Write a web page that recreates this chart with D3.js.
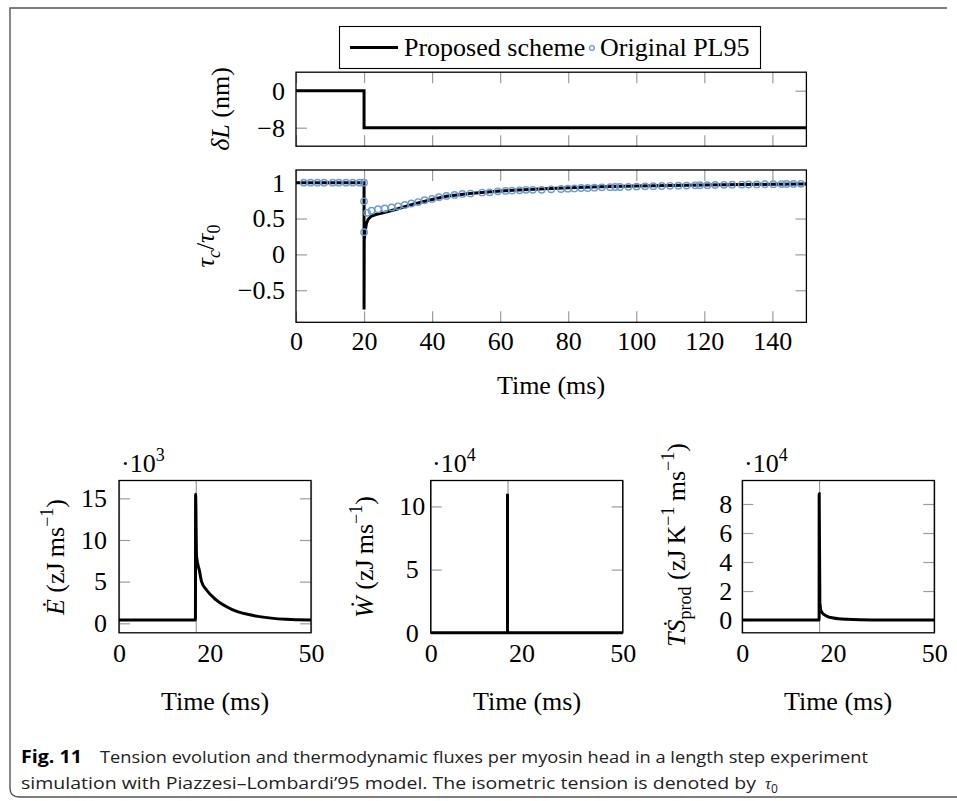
<!DOCTYPE html>
<html>
<head>
<meta charset="utf-8">
<script src="https://cdn.jsdelivr.net/npm/d3@7"></script>
<style>
  body { margin: 0; background: #fff; }
  svg { display: block; }
</style>
</head>
<body>
<div id="chart"></div>
<script>
// ---- data ----
// length step (nm)
const stepTime = [0, 20, 20, 150];
const stepValue = [0, 0, -8, -8];

// tension tau_c / tau_0, proposed scheme (line)
const tensionTime = [0, 20, 20, 20.05, 20.3, 20.7, 21.2, 22.2, 23.7, 25.6, 29.5, 34.4, 40, 44.2, 51, 60, 70, 80, 89.4, 100, 120, 140, 150];
const tensionValue = [1, 1, -0.77, 0.2, 0.32, 0.43, 0.49, 0.535, 0.56, 0.58, 0.63, 0.70, 0.765, 0.81, 0.85, 0.885, 0.91, 0.93, 0.944, 0.955, 0.968, 0.978, 0.982];

// tension, original PL95 (markers)
const origTime = [2.3, 4.3, 6.3, 8.3, 10.8, 12.6, 14.7, 16.7, 18.7, 20, 20, 20, 20.9, 22.2, 24.1, 26.1, 28.1, 30, 32, 33.9, 35.9, 37.8, 40, 42, 44.2, 46.6, 48.9, 51.3, 54.7, 56.9, 59.3, 61.6, 63.5, 65.7, 67.6, 69.6, 72.2, 75, 77.9, 79.9, 81.8, 83.8, 85.7, 87.7, 89.9, 92.3, 93.8, 95.2, 97.7, 100.1, 102.6, 105, 107.5, 109.9, 112.4, 114.8, 117.3, 118.7, 120.9, 123.2, 125.8, 128.2, 131, 133, 135.4, 137.8, 140.3, 142.7, 144.2, 146.2, 148.4];
const origValue = [1, 1, 1, 1, 1, 1, 1, 1, 1, 1, 0.74, 0.31, 0.58, 0.61, 0.63, 0.64, 0.655, 0.67, 0.69, 0.71, 0.73, 0.755, 0.774, 0.797, 0.816, 0.83, 0.843, 0.848, 0.862, 0.866, 0.88, 0.885, 0.89, 0.894, 0.9, 0.9, 0.9, 0.908, 0.912, 0.917, 0.92, 0.926, 0.926, 0.93, 0.935, 0.937, 0.94, 0.94, 0.943, 0.946, 0.95, 0.952, 0.954, 0.956, 0.958, 0.96, 0.963, 0.964, 0.966, 0.968, 0.97, 0.972, 0.974, 0.975, 0.976, 0.978, 0.98, 0.981, 0.982, 0.983, 0.984];

// energy flux (x 10^3 zJ/ms)
const energyTime = [0, 19.9, 19.95, 20.2, 21.0, 21.5, 22.8, 25.3, 29.7, 36.6, 43.5, 50];
const energyValue = [0.4, 0.4, 15.5, 8.0, 6.2, 5.0, 4.0, 2.8, 1.6, 0.8, 0.48, 0.4];

// work flux (x 10^4 zJ/ms)
const workTime = [0, 20, 20, 20, 50];
const workValue = [0, 0, 11, 0, 0];

// entropy production (x 10^4 zJ/K/ms)
const entropyTime = [0, 20, 20.02, 20.2, 20.6, 21.9, 23.7, 27.2, 34, 50];
const entropyValue = [0, 0, 8.7, 1.2, 0.57, 0.28, 0.14, 0.05, 0, 0];

// ticks
const midXTicks = [0, 20, 40, 60, 80, 100, 120, 140];
const midXLabels = ["0", "20", "40", "60", "80", "100", "120", "140"];
const stepYTicks = [0, -8];
const stepYLabels = ["0", "\u22128"];
const tensionYTicks = [1, 0.5, 0, -0.5];
const tensionYLabels = ["1", "0.5", "0", "\u22120.5"];
const smallXTicks = [0, 20, 50];
const smallXLabels = ["0", "20", "50"];
const energyYTicks = [0, 5, 10, 15];
const workYTicks = [0, 5, 10];
const entropyYTicks = [0, 2, 4, 6, 8];

const serif = '"Liberation Serif","DejaVu Serif",serif';
const blue = "#6b9bd6";

const svg = d3.select("#chart").append("svg")
    .attr("width", 957)
    .attr("height", 801);

function styleAxis(sel) {
    sel.select(".domain").remove();
    sel.selectAll(".tick line").attr("stroke", "#9c9c9c").attr("stroke-width", 1.2);
    sel.selectAll(".tick text")
        .attr("fill", "#000")
        .style("font-family", serif)
        .style("font-size", "26px");
}

function makePanel(p) {
    const x = d3.scaleLinear().domain(p.xDomain).range([p.left, p.right]);
    const y = d3.scaleLinear().domain(p.yDomain).range([p.bottom, p.top]);
    const g = svg.append("g");
    const t = 11;
    const h = p.bottom - p.top;

    const xb = g.append("g")
        .attr("transform", `translate(0,${p.bottom})`)
        .call(d3.axisBottom(x).tickValues(p.xTicks)
            .tickSize(p.fullX ? -h : -t)
            .tickPadding(p.xPad || 10)
            .tickFormat((d, i) => p.xLabels ? p.xLabels[i] : ""));
    styleAxis(xb);
    if (p.startAt20) {
        xb.selectAll(".tick text").filter(d => d === 20)
            .attr("text-anchor", "start").attr("x", 1);
    }
    if (!p.fullX) {
        const xt = g.append("g")
            .attr("transform", `translate(0,${p.top})`)
            .call(d3.axisTop(x).tickValues(p.xTicks).tickSize(-t).tickFormat(""));
        styleAxis(xt);
    }

    const yl = g.append("g")
        .attr("transform", `translate(${p.left},0)`)
        .call(d3.axisLeft(y).tickValues(p.yTicks).tickSize(-t)
            .tickPadding(p.yPad || 11)
            .tickFormat((d, i) => p.yLabels[i]));
    styleAxis(yl);
    if (p.yAnchor) yl.selectAll(".tick text").attr("text-anchor", p.yAnchor);

    const yr = g.append("g")
        .attr("transform", `translate(${p.right},0)`)
        .call(d3.axisRight(y).tickValues(p.yTicks).tickSize(-t).tickFormat(""));
    styleAxis(yr);

    g.append("rect")
        .attr("x", p.left).attr("y", p.top)
        .attr("width", p.right - p.left).attr("height", h)
        .attr("fill", "none").attr("stroke", "#000").attr("stroke-width", 1.3);

    return { x, y, g };
}

function drawLine(panel, xs, ys, curve) {
    const line = d3.line()
        .x(d => panel.x(d[0]))
        .y(d => panel.y(d[1]))
        .curve(curve || d3.curveLinear);
    panel.g.append("path")
        .datum(d3.zip(xs, ys))
        .attr("d", line)
        .attr("fill", "none")
        .attr("stroke", "#000")
        .attr("stroke-width", 3);
}

// rotated axis label made from parts {t, it, shift, size}
function rotLabel(x, y, parts) {
    const text = svg.append("text")
        .attr("transform", `translate(${x},${y}) rotate(-90)`)
        .attr("text-anchor", "middle")
        .style("font-family", serif)
        .style("font-size", "26px")
        .attr("fill", "#000");
    let cur = 0;
    parts.forEach(pt => {
        const s = pt.shift || 0;
        text.append("tspan")
            .attr("dy", s - cur)
            .style("font-style", pt.it ? "italic" : "normal")
            .style("font-size", (pt.size || 26) + "px")
            .text(pt.t);
        cur = s;
    });
}

function plainText(x, y, str, anchor) {
    svg.append("text")
        .attr("x", x).attr("y", y)
        .attr("text-anchor", anchor || "middle")
        .style("font-family", serif)
        .style("font-size", "26px")
        .attr("fill", "#000")
        .text(str);
}

function scaleNote(x, y, exp) {
    const t = svg.append("text")
        .attr("x", x).attr("y", y)
        .style("font-family", serif)
        .style("font-size", "26px")
        .attr("fill", "#000");
    t.append("tspan").text("\u00b710");
    t.append("tspan").attr("dy", -11).style("font-size", "18px").text(exp);
}

// ---- frame of the figure ----
svg.append("path")
    .attr("d", "M947,8 H10 V788 Q10,797 19,797 H957")
    .attr("fill", "none")
    .attr("stroke", "#555")
    .attr("stroke-width", 1.4);

// ---- legend ----
svg.append("rect")
    .attr("x", 339.5).attr("y", 26.5).attr("width", 421).attr("height", 42)
    .attr("fill", "#fff").attr("stroke", "#000").attr("stroke-width", 1.1);
svg.append("line")
    .attr("x1", 350).attr("x2", 398).attr("y1", 47.5).attr("y2", 47.5)
    .attr("stroke", "#000").attr("stroke-width", 3);
plainText(404, 56, "Proposed scheme", "start");
svg.append("circle")
    .attr("cx", 592).attr("cy", 48).attr("r", 2.4)
    .attr("fill", "none").attr("stroke", blue).attr("stroke-width", 1.3);
plainText(600, 56, "Original PL95", "start");

// ---- top panel: length step ----
const pStep = makePanel({
    left: 296, right: 806.4, top: 72.2, bottom: 146.2,
    xDomain: [0, 150], yDomain: [-12, 4],
    xTicks: midXTicks, yTicks: stepYTicks, yLabels: stepYLabels
});
drawLine(pStep, stepTime, stepValue);
rotLabel(229, 109, [{ t: "\u03b4L", it: true }, { t: " (nm)" }]);

// ---- middle panel: tension ----
const pTension = makePanel({
    left: 296, right: 806.4, top: 170, bottom: 322.3,
    xDomain: [0, 150], yDomain: [-0.947, 1.177],
    xTicks: midXTicks, xLabels: midXLabels, xPad: 9,
    yTicks: tensionYTicks, yLabels: tensionYLabels
});
drawLine(pTension, tensionTime, tensionValue);
pTension.g.append("g").selectAll("circle")
    .data(d3.zip(origTime, origValue))
    .join("circle")
    .attr("cx", d => pTension.x(d[0]))
    .attr("cy", d => pTension.y(d[1]))
    .attr("r", 3.2)
    .attr("fill", "none")
    .attr("stroke", blue)
    .attr("stroke-width", 1.4);
rotLabel(214, 246, [
    { t: "\u03c4", it: true }, { t: "c", it: true, shift: 6, size: 18 },
    { t: "/" }, { t: "\u03c4", it: true }, { t: "0", shift: 6, size: 18 }
]);
plainText(551, 394, "Time (ms)");

// ---- bottom panels ----
const pEnergy = makePanel({
    left: 119, right: 311, top: 480.5, bottom: 632.8,
    xDomain: [0, 50], yDomain: [-1.14, 17.14], fullX: true, startAt20: true,
    xTicks: smallXTicks, xLabels: smallXLabels, xPad: 10.5,
    yTicks: energyYTicks, yLabels: energyYTicks.map(String), yPad: 12
});
drawLine(pEnergy, energyTime, energyValue, d3.curveMonotoneX);
scaleNote(121, 472, "3");
rotLabel(64, 557, [
    { t: "E\u0307", it: true }, { t: " (zJ\u2009ms" },
    { t: "\u22121", shift: -11, size: 18 }, { t: ")" }
]);
plainText(215, 710, "Time (ms)");

const pWork = makePanel({
    left: 430.7, right: 622.7, top: 480.5, bottom: 632.8,
    xDomain: [0, 50], yDomain: [0, 12.05], fullX: true, startAt20: true,
    xTicks: smallXTicks, xLabels: smallXLabels, xPad: 10.5,
    yTicks: workYTicks, yLabels: workYTicks.map(String), yPad: 18.5, yAnchor: "middle"
});
drawLine(pWork, workTime, workValue);
scaleNote(432, 472, "4");
rotLabel(373, 557, [
    { t: "W\u0307", it: true }, { t: " (zJ\u2009ms" },
    { t: "\u22121", shift: -11, size: 18 }, { t: ")" }
]);
plainText(527, 710, "Time (ms)");

const pEntropy = makePanel({
    left: 742.3, right: 934.3, top: 480.5, bottom: 632.8,
    xDomain: [0, 50], yDomain: [-0.88, 9.62], fullX: true, startAt20: true,
    xTicks: smallXTicks, xLabels: smallXLabels, xPad: 10.5,
    yTicks: entropyYTicks, yLabels: entropyYTicks.map(String), yPad: 10
});
drawLine(pEntropy, entropyTime, entropyValue, d3.curveMonotoneX);
scaleNote(744, 472, "4");
rotLabel(685, 545, [
    { t: "T", it: true }, { t: "S\u0307", it: true }, { t: "prod", shift: 6, size: 18 },
    { t: " (zJ\u2009K" }, { t: "\u22121", shift: -11, size: 18 },
    { t: "\u2009ms" }, { t: "\u22121", shift: -11, size: 18 }, { t: ")" }
]);
plainText(838, 710, "Time (ms)");

// ---- caption ----
const capFont = '"Open Sans",Lato,"Liberation Sans",sans-serif';
svg.append("text")
    .attr("x", 21).attr("y", 763)
    .style("font-family", capFont)
    .style("font-size", "17px")
    .style("font-weight", "bold")
    .attr("fill", "#000")
    .attr("textLength", 61)
    .attr("lengthAdjust", "spacingAndGlyphs")
    .text("Fig. 11");
svg.append("text")
    .attr("x", 100).attr("y", 763)
    .style("font-family", capFont)
    .style("font-size", "17px")
    .attr("fill", "#222")
    .attr("textLength", 768)
    .attr("lengthAdjust", "spacingAndGlyphs")
    .text("Tension evolution and thermodynamic fluxes per myosin head in a length step experiment");

const cap2 = svg.append("text")
    .attr("x", 21).attr("y", 789)
    .style("font-family", capFont)
    .style("font-size", "17px")
    .attr("fill", "#222");
cap2.append("tspan")
    .attr("textLength", 740)
    .attr("lengthAdjust", "spacingAndGlyphs")
    .text("simulation with Piazzesi\u2013Lombardi\u201995 model. The isometric tension is denoted by ");
cap2.append("tspan").attr("dx", 4).style("font-family", serif).style("font-style", "italic").text("\u03c4");
cap2.append("tspan").attr("dy", 4).style("font-size", "12px").text("0");
</script>
</body>
</html>
